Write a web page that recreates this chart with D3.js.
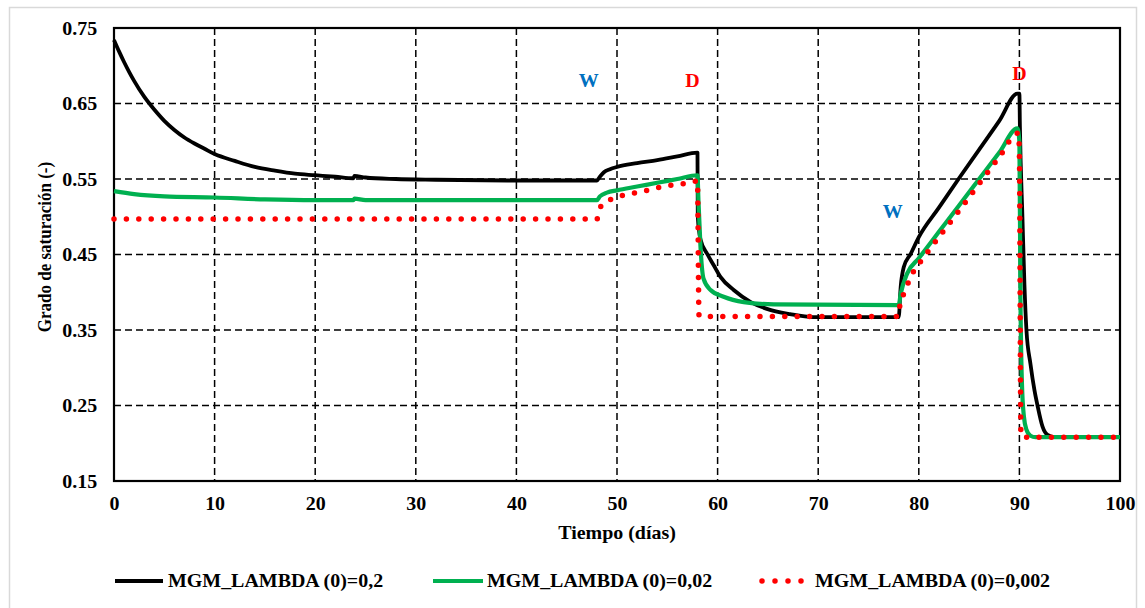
<!DOCTYPE html>
<html><head><meta charset="utf-8">
<script src="https://cdn.jsdelivr.net/npm/d3@7"></script>
<style>
body{margin:0;background:#fff;}
svg{display:block;}
text{font-family:"Liberation Serif","Times New Roman",serif;font-weight:bold;}
</style></head>
<body><svg id="chart" width="1145" height="608"></svg>
<script>
// ---- data ----
const xTicks = [0,10,20,30,40,50,60,70,80,90,100];
const yTicks = [0.15,0.25,0.35,0.45,0.55,0.65,0.75];
const seriesNames = ["MGM_LAMBDA (0)=0,2","MGM_LAMBDA (0)=0,02","MGM_LAMBDA (0)=0,002"];

const tBlack = [0,0.5,1,1.5,2,3,4,5,6,7,8,9,10,12,14,16,18,20,22,23.8,23.9,25,28,32,40,48,48.3,48.7,49.3,50,52,54,56,58,58.03,58.3,59,59.6,60.3,61.6,63.3,64.9,67.2,69.5,78,78.2,78.5,79.2,80,82,84,86,88,89.8,90,90.05,90.3,90.5,90.7,91.1,91.5,91.8,92.3,92.8,93.5,100];
const vBlack = [0.734,0.719,0.705,0.692,0.680,0.659,0.642,0.627,0.615,0.605,0.597,0.590,0.583,0.574,0.566,0.561,0.557,0.555,0.553,0.551,0.554,0.552,0.550,0.549,0.548,0.548,0.553,0.559,0.563,0.566,0.571,0.575,0.580,0.585,0.500,0.470,0.450,0.436,0.420,0.403,0.387,0.378,0.371,0.367,0.367,0.407,0.433,0.451,0.473,0.512,0.551,0.589,0.627,0.663,0.663,0.620,0.500,0.410,0.350,0.305,0.270,0.250,0.222,0.211,0.208,0.208];

const tGreen = [0,2,5,10,15,20,23.8,23.9,25,30,48,48.3,49,50,52,54,56,58,58.1,58.3,58.6,59.3,60.6,62.6,65.6,78,78.2,78.85,80,82,84,86,88,89.8,90,90.1,90.25,90.45,90.7,91.1,91.6,100];
const vGreen = [0.534,0.530,0.527,0.5255,0.523,0.522,0.522,0.524,0.522,0.522,0.522,0.527,0.532,0.535,0.540,0.545,0.550,0.555,0.520,0.460,0.418,0.403,0.394,0.387,0.384,0.383,0.398,0.425,0.445,0.480,0.515,0.550,0.585,0.617,0.600,0.400,0.280,0.235,0.218,0.210,0.208,0.208];

const tRed = [0,48,48.2,48.4,48.8,49.4,50.5,51.9,53,54.2,55.5,56.7,57.9,58,58.15,58.3,78,78.1,78.5,79,79.5,80.2,84,88,89.9,90,90.15,90.3,100];
const vRed = [0.497,0.497,0.503,0.514,0.519,0.523,0.528,0.532,0.535,0.539,0.542,0.544,0.5475,0.548,0.370,0.368,0.368,0.381,0.398,0.414,0.428,0.441,0.508,0.579,0.611,0.580,0.215,0.208,0.208];

const annotations = [
  {t:47.2, v:0.672, label:"W", color:"#0070C0"},
  {t:57.5, v:0.672, label:"D", color:"#FF0000"},
  {t:77.4, v:0.498, label:"W", color:"#0070C0"},
  {t:90.0, v:0.681, label:"D", color:"#FF0000"}
];

// ---- layout ----
const svg = d3.select("#chart");
const L = 114, R = 1120, T = 28, B = 481;
const SX = 1.05, FS = 19;
const x = d3.scaleLinear().domain([0,100]).range([L,R]);
const y = d3.scaleLinear().domain([0.15,0.75]).range([B,T]);

// outer frame
svg.append("rect").attr("x",9.5).attr("y",7.5).attr("width",1127).attr("height",620)
  .attr("fill","none").attr("stroke","#d9d9d9").attr("stroke-width",1.5);

// grid
const grid = svg.append("g").attr("stroke","#000").attr("stroke-width",1.5).attr("stroke-dasharray","7,4");
grid.selectAll("line.v").data(xTicks.slice(1,-1)).join("line")
  .attr("x1",d=>x(d)).attr("x2",d=>x(d)).attr("y1",T).attr("y2",B);
grid.selectAll("line.h").data(yTicks.slice(1,-1)).join("line")
  .attr("y1",d=>y(d)).attr("y2",d=>y(d)).attr("x1",L).attr("x2",R);

// plot border
svg.append("rect").attr("x",L).attr("y",T).attr("width",R-L).attr("height",B-T)
  .attr("fill","none").attr("stroke","#000").attr("stroke-width",2.2);

// axes labels
const xAxis = svg.append("g").attr("transform",`translate(0,${B})`)
  .call(d3.axisBottom(x).tickValues(xTicks).tickSize(0).tickPadding(16).tickFormat(d3.format("d")));
const yAxis = svg.append("g").attr("transform",`translate(${L},0)`)
  .call(d3.axisLeft(y).tickValues(yTicks).tickSize(0).tickPadding(16).tickFormat(d3.format(".2f")));
[xAxis,yAxis].forEach(a=>{
  a.select(".domain").remove();
  a.selectAll("text").attr("font-size",FS).attr("fill","#000")
    .attr("font-family","Liberation Serif, Times New Roman, serif").attr("font-weight","bold")
    .attr("transform",`scale(${SX},1)`);
});

// series
const line = d3.line().x(d=>x(d[0])).y(d=>y(d[1])).curve(d3.curveMonotoneX);
const zip = (a,b)=>a.map((t,i)=>[t,b[i]]);
svg.append("path").datum(zip(tBlack,vBlack)).attr("d",line)
  .attr("fill","none").attr("stroke","#000").attr("stroke-width",3.8).attr("stroke-linejoin","round");
svg.append("path").datum(zip(tGreen,vGreen)).attr("d",line)
  .attr("fill","none").attr("stroke","#00B050").attr("stroke-width",4.2).attr("stroke-linejoin","round");
svg.append("path").datum(zip(tRed,vRed)).attr("d",line)
  .attr("fill","none").attr("stroke","#FF0000").attr("stroke-width",5.5)
  .attr("stroke-linecap","round").attr("stroke-dasharray","0,12.4");

// annotations
annotations.forEach(a=>{
  svg.append("g").attr("transform",`translate(${x(a.t)},${y(a.v)}) scale(${SX},1)`)
    .append("text").attr("text-anchor","middle").attr("font-size",FS).attr("fill",a.color).text(a.label);
});

// axis titles
svg.append("g").attr("transform",`translate(617,539) scale(${SX},1)`)
  .append("text").attr("text-anchor","middle").attr("font-size",FS).text("Tiempo (días)");
svg.append("g").attr("transform",`translate(51,247) rotate(-90) scale(1,1.15)`)
  .append("text").attr("text-anchor","middle").attr("font-size",17).text("Grado de saturación (-)");

// legend
const legend = [
  {x1:115,x2:163,tx:168,color:"#000",w:4,dash:null,cap:"butt"},
  {x1:433,x2:483,tx:487,color:"#00B050",w:4,dash:null,cap:"butt"},
  {x1:762,x2:805,tx:815,color:"#FF0000",w:5.5,dash:"0,13",cap:"round"}
];
legend.forEach((l,i)=>{
  const ln = svg.append("line").attr("x1",l.x1).attr("x2",l.x2).attr("y1",581).attr("y2",581)
    .attr("stroke",l.color).attr("stroke-width",l.w).attr("stroke-linecap",l.cap);
  if(l.dash) ln.attr("stroke-dasharray",l.dash);
  svg.append("g").attr("transform",`translate(${l.tx},587) scale(${SX},1)`)
    .append("text").attr("font-size",FS).text(seriesNames[i]);
});
</script></body></html>
